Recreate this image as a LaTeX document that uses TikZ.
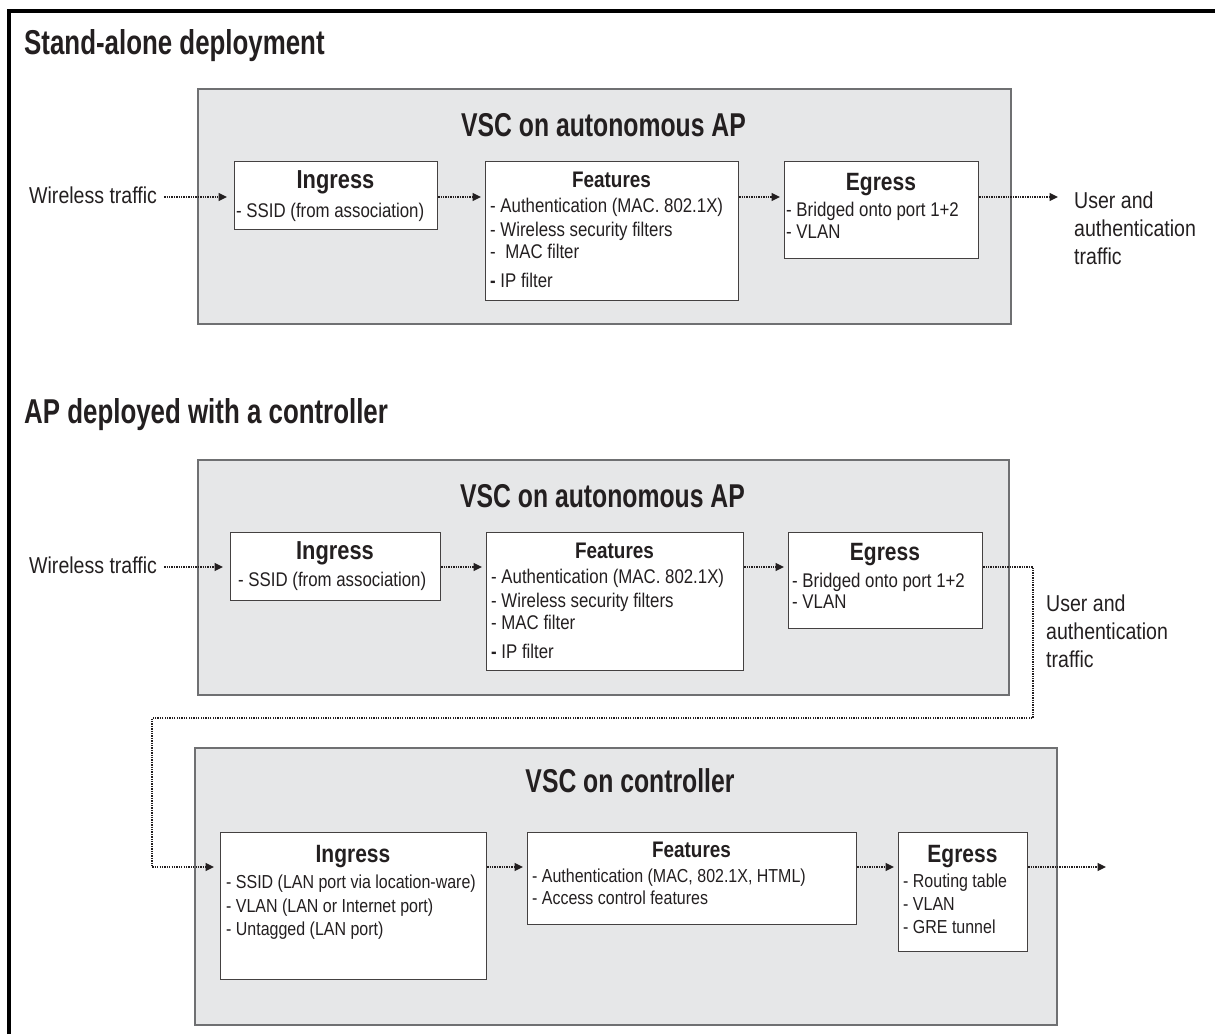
\documentclass[tikz,border=0pt]{standalone}
\usepackage{fontspec}
\setmainfont{Liberation Sans}[FakeStretch=0.85]
\newfontfamily\headfont{Liberation Sans}[FakeStretch=0.84]
\newfontfamily\titlefont{Liberation Sans}[FakeStretch=0.75]
\usetikzlibrary{arrows.meta}

\definecolor{panelfill}{HTML}{E6E7E8}
\definecolor{panelline}{HTML}{6F7072}
\definecolor{ink}{HTML}{231F20}

\tikzset{
  panel/.style={rectangle, draw=panelline, fill=panelfill, line width=1.5pt,
    inner sep=0pt, anchor=north west},
  stage/.style={rectangle, draw=ink!85, fill=white, line width=1.2pt,
    inner sep=0pt, anchor=north west},
  flow/.style={ink, line width=1.3pt, dash pattern=on 1.3pt off 1.1pt,
    -{Triangle[length=8.5pt,width=8pt]}, shorten >=4pt},
  body/.style={inner sep=0pt, anchor=base west, text=ink,
    font=\fontsize{19.8}{22}\selectfont},
  smallbody/.style={body, font=\fontsize{18.8}{21}\selectfont},
  side/.style={inner sep=0pt, anchor=base west, text=ink,
    font=\fontsize{23}{26}\selectfont},
  head/.style={inner sep=0pt, anchor=base, text=ink,
    font=\headfont\bfseries\fontsize{26}{28}\selectfont},
  headmid/.style={head, font=\headfont\bfseries\fontsize{25}{28}\selectfont},
  headsmall/.style={head, font=\headfont\bfseries\fontsize{22.5}{25}\selectfont},
  vsc/.style={inner sep=0pt, anchor=base, text=ink,
    font=\titlefont\bfseries\fontsize{33}{36}\selectfont},
  section/.style={inner sep=0pt, anchor=base west, text=ink,
    font=\titlefont\bfseries\fontsize{34.5}{38}\selectfont},
}

\begin{document}
\begin{tikzpicture}[x=1pt, y=-1pt]
\useasboundingbox (0,0) rectangle (1215,1034);

% outer frame (top and left rules)
\draw[line width=3.8pt, black] (8.7,1034) -- (8.7,10.7) -- (1215,10.7);

% ---------------- Stand-alone deployment ----------------
\node[section] (sec1) at (24,54) {Stand-alone deployment};
\node[panel, minimum width=813pt, minimum height=235pt] (ap1) at (197,88) {};
\node[vsc] (ap1t) at (603.5,136) {VSC on autonomous AP};

\coordinate (row1) at (0,197);

\node[stage, minimum width=203pt, minimum height=68pt] (i1) at (234,161) {};
\node[head] (i1h) at (335.5,188) {Ingress};
\node[body] (i1a) at (236,217) {- SSID (from association)};

\node[stage, minimum width=253pt, minimum height=139pt] (f1) at (485,161) {};
\node[headsmall] (f1h) at (611.5,187) {Features};
\node[body] (f1a) at (490,212) {- Authentication (MAC. 802.1X)};
\node[body] (f1b) at (490,236) {- Wireless security filters};
\node[body] (f1c) at (490,258) {-\hspace{9.5pt}MAC filter};
\node[body] (f1d) at (490,287) {{\bfseries -} IP filter};

\node[stage, minimum width=194pt, minimum height=97pt] (e1) at (784,161) {};
\node[headmid] (e1h) at (881,190) {Egress};
\node[body] (e1a) at (786,216) {- Bridged onto port 1+2};
\node[body] (e1b) at (786,238) {- VLAN};

\node[side] (wt1) at (29,203) {Wireless traffic};
\node[side] (ut1a) at (1074,208) {User and};
\node[side] (ut1b) at (1074,236) {authentication};
\node[side] (ut1c) at (1074,264) {traffic};
\coordinate (out1) at (1062,197);

\draw[flow, shorten <=7pt, shorten >=7pt] (wt1.east |- row1) -- (i1.west |- row1);
\draw[flow] (i1.east |- row1) -- (f1.west |- row1);
\draw[flow] (f1.east |- row1) -- (e1.west |- row1);
\draw[flow] (e1.east |- row1) -- (out1);

% ---------------- AP deployed with a controller ----------------
\node[section] (sec2) at (24,423) {AP deployed with a controller};
\node[panel, minimum width=811pt, minimum height=235pt] (ap2) at (197,459) {};
\node[vsc] (ap2t) at (602.5,507) {VSC on autonomous AP};

\coordinate (row2) at (0,567);

\node[stage, minimum width=210pt, minimum height=68pt] (i2) at (230,532) {};
\node[head] (i2h) at (335,559) {Ingress};
\node[body] (i2a) at (238,586) {- SSID (from association)};

\node[stage, minimum width=257pt, minimum height=138pt] (f2) at (486,532) {};
\node[headsmall] (f2h) at (614.5,558) {Features};
\node[body] (f2a) at (491,583) {- Authentication (MAC. 802.1X)};
\node[body] (f2b) at (491,607) {- Wireless security filters};
\node[body] (f2c) at (491,629) {- MAC filter};
\node[body] (f2d) at (491,658) {{\bfseries -} IP filter};

\node[stage, minimum width=194pt, minimum height=96pt] (e2) at (788,532) {};
\node[headmid] (e2h) at (885,560) {Egress};
\node[body] (e2a) at (792,587) {- Bridged onto port 1+2};
\node[body] (e2b) at (792,608) {- VLAN};

\node[side] (wt2) at (29,573) {Wireless traffic};
\node[side] (ut2a) at (1046,611) {User and};
\node[side] (ut2b) at (1046,639) {authentication};
\node[side] (ut2c) at (1046,667) {traffic};

\draw[flow, shorten <=7pt, shorten >=7pt] (wt2.east |- row2) -- (i2.west |- row2);
\draw[flow] (i2.east |- row2) -- (f2.west |- row2);
\draw[flow] (f2.east |- row2) -- (e2.west |- row2);

% ---------------- VSC on controller ----------------
\node[panel, minimum width=862pt, minimum height=277pt] (ctl) at (194,747) {};
\node[vsc] (ctlt) at (630,792) {VSC on controller};

\coordinate (row3) at (0,867);

\node[stage, minimum width=266pt, minimum height=147pt] (i3) at (220,832) {};
\node[headmid] (i3h) at (353,862) {Ingress};
\node[smallbody] (i3a) at (226,888) {- SSID (LAN port via location-ware)};
\node[smallbody] (i3b) at (226,912) {- VLAN (LAN or Internet port)};
\node[smallbody] (i3c) at (226,935) {- Untagged (LAN port)};

\node[stage, minimum width=329pt, minimum height=92pt] (f3) at (527,832) {};
\node[headsmall] (f3h) at (691.5,857) {Features};
\node[smallbody] (f3a) at (532,882) {- Authentication (MAC, 802.1X, HTML)};
\node[smallbody] (f3b) at (532,904) {- Access control features};

\node[stage, minimum width=129pt, minimum height=119pt] (e3) at (898,832) {};
\node[headmid] (e3h) at (962.5,862) {Egress};
\node[smallbody] (e3a) at (903,887) {- Routing table};
\node[smallbody] (e3b) at (903,910) {- VLAN};
\node[smallbody] (e3c) at (903,933) {- GRE tunnel};
\coordinate (out3) at (1110,867);

% hand-off from the AP egress down to the controller ingress
\coordinate (turnR) at (1033,718);
\coordinate (turnL) at (152,718);
\draw[flow, shorten >=6pt] (e2.east |- row2) -| (turnR) -- (turnL) |- (i3.west |- row3);

\draw[flow] (i3.east |- row3) -- (f3.west |- row3);
\draw[flow] (f3.east |- row3) -- (e3.west |- row3);
\draw[flow] (e3.east |- row3) -- (out3);
\end{tikzpicture}
\end{document}
